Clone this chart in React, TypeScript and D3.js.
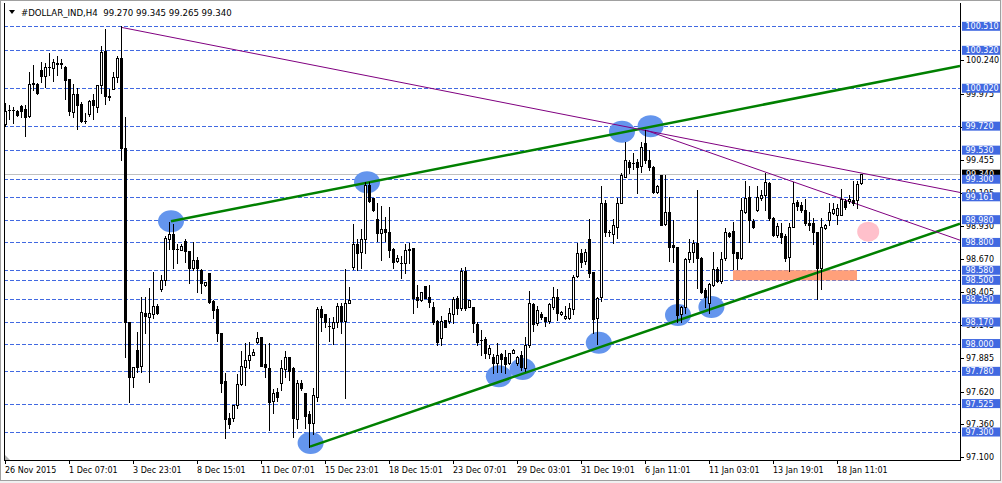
import React from 'react';
import * as d3 from 'd3';

const W = 1002;
const H = 483;
const plot = { left: 4, top: 3, right: 960, bottom: 460 };

// H4 candles, oldest first (26 Nov 2015 .. 18 Jan 2016)
const opens = [
  99.737, 99.845, 99.850, 99.843, 99.880, 99.853, 99.800, 100.055, 100.054, 100.164,
  100.117, 100.186, 100.178, 100.215, 100.219, 100.191, 100.091, 99.835, 99.975, 99.896,
  99.762, 99.816, 99.927, 99.874, 100.046, 100.315, 99.955, 100.017, 100.112, 100.257,
  99.545, 98.173, 97.738, 97.949, 97.825, 98.239, 98.213, 98.231, 98.300, 98.429,
  98.503, 98.825, 98.867, 98.748, 98.741, 98.814, 98.735, 98.595, 98.661, 98.582,
  98.461, 98.556, 98.340, 98.271, 98.086, 97.706, 97.408, 97.408, 97.514, 97.680,
  97.817, 97.870, 97.912, 98.012, 98.049, 97.838, 97.804, 97.548, 97.614, 97.685,
  97.796, 97.891, 97.804, 97.400, 97.685, 97.606, 97.442, 97.374, 97.580, 98.271,
  98.234, 98.140, 98.120, 98.173, 98.297, 98.181, 98.323, 98.608, 98.785, 98.727,
  98.824, 99.254, 99.149, 98.982, 98.877, 98.903, 98.885, 98.745, 98.655, 98.640,
  98.634, 98.743, 98.753, 98.371, 98.345, 98.455, 98.365, 98.292, 98.181, 98.041,
  98.187, 98.181, 98.234, 98.358, 98.279, 98.577, 98.287, 98.292, 98.155, 98.028,
  98.033, 97.918, 97.891, 97.849, 97.915, 97.891, 97.844, 97.928, 97.844, 97.910,
  97.804, 97.989, 98.313, 98.160, 98.234, 98.208, 98.181, 98.292, 98.366, 98.234,
  98.200, 98.200, 98.271, 98.535, 98.714, 98.656, 98.825, 98.569, 98.200, 98.371,
  99.115, 98.885, 98.867, 98.925, 99.115, 99.321, 99.439, 99.426, 99.439, 99.405,
  99.584, 99.452, 99.400, 99.202, 99.334, 98.946, 99.044, 98.780, 98.761, 98.234,
  98.292, 98.667, 98.727, 98.798, 98.674, 98.424, 98.318, 98.463, 98.587, 98.498,
  98.674, 98.872, 98.893, 98.727, 98.674, 99.044, 99.157, 98.972, 99.057, 99.149,
  99.175, 99.273, 98.991, 98.859, 98.872, 98.851, 98.687, 98.925, 99.123, 99.096,
  99.057, 98.957, 98.951, 98.885, 98.595, 98.912, 98.978, 99.036, 99.017, 99.017,
  99.131, 99.131, 99.136, 99.136, 99.270,
];
const highs = [
  99.901, 99.888, 99.874, 99.850, 99.888, 99.888, 100.151, 100.204, 100.064, 100.225,
  100.217, 100.296, 100.249, 100.275, 100.249, 100.196, 100.091, 100.054, 100.019, 99.914,
  99.822, 99.927, 99.975, 100.043, 100.354, 100.486, 100.011, 100.151, 100.275, 100.510,
  99.795, 98.173, 97.812, 98.094, 98.366, 98.371, 98.437, 98.564, 98.310, 98.543,
  98.851, 98.965, 98.946, 98.788, 98.788, 98.825, 98.735, 98.806, 98.682, 98.588,
  98.490, 98.561, 98.345, 98.297, 98.086, 97.769, 97.448, 97.514, 97.759, 97.941,
  98.007, 98.015, 97.954, 98.094, 98.049, 97.996, 98.001, 97.638, 97.646, 97.870,
  97.941, 97.896, 97.812, 97.711, 97.711, 97.611, 97.469, 97.646, 98.292, 98.297,
  98.234, 98.199, 98.207, 98.318, 98.318, 98.587, 98.450, 98.946, 98.824, 98.903,
  99.280, 99.280, 99.149, 99.109, 99.088, 98.998, 99.077, 98.753, 98.700, 98.692,
  98.787, 98.798, 98.753, 98.463, 98.411, 98.455, 98.463, 98.331, 98.187, 98.218,
  98.187, 98.279, 98.371, 98.377, 98.595, 98.608, 98.345, 98.292, 98.173, 98.107,
  98.054, 97.989, 97.918, 98.002, 97.923, 97.949, 97.928, 97.955, 97.902, 97.944,
  98.054, 98.419, 98.318, 98.297, 98.252, 98.213, 98.324, 98.445, 98.429, 98.260,
  98.297, 98.324, 98.543, 98.793, 98.745, 98.745, 98.983, 98.569, 98.371, 99.247,
  99.136, 98.898, 98.983, 99.149, 99.352, 99.598, 99.452, 99.505, 99.458, 99.598,
  99.690, 99.531, 99.405, 99.254, 99.334, 99.334, 99.157, 98.978, 98.767, 98.297,
  98.674, 98.825, 98.819, 99.215, 98.687, 98.437, 98.482, 98.727, 98.603, 98.727,
  98.912, 98.885, 98.964, 98.727, 99.149, 99.289, 99.247, 98.983, 99.247, 99.215,
  99.347, 99.281, 99.004, 98.951, 98.951, 98.867, 98.951, 99.281, 99.136, 99.123,
  99.141, 99.044, 98.991, 98.885, 98.991, 98.946, 99.110, 99.115, 99.104, 99.220,
  99.141, 99.175, 99.289, 99.289, 99.345,
];
const lows = [
  99.721, 99.774, 99.742, 99.800, 99.795, 99.645, 99.795, 100.006, 99.975, 100.072,
  100.033, 100.125, 100.080, 100.125, 100.178, 99.935, 99.808, 99.795, 99.695, 99.756,
  99.742, 99.800, 99.774, 99.835, 99.985, 99.895, 99.927, 100.011, 100.072, 99.452,
  97.897, 97.541, 97.659, 97.778, 97.778, 98.081, 97.699, 98.205, 98.230, 98.419,
  98.464, 98.746, 98.595, 98.640, 98.741, 98.648, 98.477, 98.582, 98.411, 98.398,
  98.455, 98.319, 98.200, 98.023, 97.619, 97.250, 97.329, 97.390, 97.493, 97.672,
  97.672, 97.804, 97.907, 98.007, 97.822, 97.738, 97.316, 97.448, 97.548, 97.632,
  97.738, 97.711, 97.258, 97.329, 97.632, 97.329, 97.184, 97.284, 97.548, 98.102,
  98.133, 98.023, 97.994, 98.128, 98.086, 97.566, 98.318, 98.587, 98.582, 98.595,
  98.713, 99.122, 99.051, 98.814, 98.661, 98.814, 98.682, 98.595, 98.648, 98.516,
  98.555, 98.634, 98.239, 98.292, 98.339, 98.357, 98.292, 98.154, 97.989, 97.989,
  98.134, 98.160, 98.160, 98.234, 98.266, 98.266, 98.287, 98.094, 97.989, 97.910,
  97.883, 97.883, 97.765, 97.778, 97.778, 97.765, 97.838, 97.925, 97.830, 97.791,
  97.786, 97.976, 98.102, 98.147, 98.192, 98.139, 98.165, 98.271, 98.187, 98.229,
  98.192, 98.192, 98.234, 98.524, 98.608, 98.630, 98.524, 98.086, 97.995, 98.340,
  98.851, 98.851, 98.798, 98.833, 99.110, 99.315, 99.347, 99.379, 99.194, 99.360,
  99.426, 99.370, 99.194, 99.194, 98.938, 98.940, 98.656, 98.648, 98.173, 98.173,
  98.239, 98.648, 98.648, 98.437, 98.403, 98.292, 98.239, 98.455, 98.490, 98.482,
  98.661, 98.841, 98.587, 98.587, 98.666, 99.030, 98.806, 98.912, 99.051, 99.136,
  99.057, 98.978, 98.851, 98.846, 98.793, 98.656, 98.577, 98.920, 99.057, 99.044,
  98.938, 98.899, 98.788, 98.350, 98.429, 98.904, 98.938, 99.025, 98.946, 99.017,
  99.062, 99.110, 99.096, 99.070, 99.265,
];
const closes = [
  99.843, 99.850, 99.845, 99.806, 99.843, 99.795, 100.054, 100.060, 99.985, 100.117,
  100.186, 100.190, 100.225, 100.219, 100.215, 100.085, 99.843, 99.975, 99.888, 99.764,
  99.758, 99.922, 99.888, 100.043, 100.309, 99.959, 99.951, 100.106, 100.257, 99.545,
  98.173, 97.738, 97.812, 97.817, 98.247, 98.218, 98.239, 98.300, 98.239, 98.503,
  98.833, 98.867, 98.751, 98.746, 98.772, 98.735, 98.595, 98.661, 98.595, 98.482,
  98.487, 98.332, 98.266, 98.086, 97.690, 97.400, 97.363, 97.514, 97.680, 97.822,
  97.870, 97.909, 97.933, 98.041, 97.822, 97.817, 97.540, 97.606, 97.574, 97.804,
  97.891, 97.785, 97.408, 97.685, 97.646, 97.427, 97.374, 97.593, 98.271, 98.212,
  98.173, 98.138, 98.173, 98.297, 98.181, 98.323, 98.345, 98.785, 98.719, 98.824,
  99.254, 99.130, 99.056, 98.872, 98.903, 98.885, 98.740, 98.648, 98.674, 98.638,
  98.740, 98.745, 98.357, 98.345, 98.405, 98.357, 98.331, 98.173, 98.015, 98.181,
  98.134, 98.244, 98.350, 98.279, 98.574, 98.279, 98.345, 98.160, 98.015, 98.026,
  97.928, 97.962, 97.844, 97.910, 97.875, 97.838, 97.923, 97.949, 97.891, 97.812,
  97.989, 98.324, 98.155, 98.266, 98.208, 98.181, 98.313, 98.366, 98.245, 98.250,
  98.218, 98.279, 98.529, 98.719, 98.648, 98.727, 98.556, 98.192, 98.358, 99.110,
  98.885, 98.880, 98.938, 99.110, 99.334, 99.452, 99.395, 99.428, 99.400, 99.553,
  99.452, 99.395, 99.202, 99.247, 98.938, 99.044, 98.767, 98.761, 98.226, 98.292,
  98.667, 98.727, 98.793, 98.674, 98.411, 98.366, 98.471, 98.587, 98.498, 98.667,
  98.885, 98.851, 98.714, 98.674, 99.057, 99.149, 98.978, 98.925, 99.157, 99.175,
  99.281, 98.991, 98.859, 98.930, 98.841, 98.674, 98.925, 99.115, 99.088, 99.057,
  98.957, 98.938, 98.885, 98.595, 98.920, 98.938, 99.044, 99.062, 99.070, 99.141,
  99.078, 99.141, 99.115, 99.263, 99.340,
];

// horizontal price levels (blue dashed) and right axis ticks
const levels = [
  100.51, 100.32, 100.02, 99.72, 99.53, 99.3, 99.161, 98.98, 98.8,
  98.58, 98.5, 98.35, 98.17, 98.0, 97.78, 97.525, 97.3,
];
const levelText = [
  '100.510', '100.320', '100.020', '99.720', '99.530', '99.300', '99.161', '98.980', '98.800',
  '98.580', '98.500', '98.350', '98.170', '98.000', '97.780', '97.525', '97.300',
];
const axisTicks = [
  '100.240', '99.975', '99.715', '99.455', '99.195', '98.930', '98.670',
  '98.405', '98.145', '97.885', '97.620', '97.360', '97.100',
];
const bidPrice = 99.34;

const timeBars = [0, 16, 32, 48, 64, 80, 96, 112, 128, 144, 160, 176, 192, 208];
const timeLabels = [
  '26 Nov 2015', '1 Dec 07:01', '3 Dec 23:01', '8 Dec 15:01', '11 Dec 07:01',
  '15 Dec 23:01', '18 Dec 15:01', '23 Dec 07:01', '29 Dec 03:01', '31 Dec 19:01',
  '6 Jan 11:01', '11 Jan 03:01', '13 Jan 19:01', '18 Jan 11:01',
];

// highlighted swing points (blue ellipses)
const markBars = [41.5, 90.5, 154.25, 161.4, 76.4, 123.45, 129.4, 148.45, 168.25, 176.6];
const markPrices = [98.967, 99.277, 99.676, 99.72, 97.213, 97.741, 97.799, 98.006, 98.226, 98.289];
const pinkMark = { bar: 215.8, price: 98.885 };
const zoneBars = [182, 213];
const zonePrices = [98.5, 98.58];

// trend lines: start point, second point, extended to the right edge
const trendLines = [
  { b1: 41.5, p1: 98.967, b2: 154.25, p2: 99.67, color: '#008000', width: 2.5 },
  { b1: 76.25, p1: 97.184, b2: 148.45, p2: 97.968, color: '#008000', width: 2.5 },
  { b1: 29, p1: 100.502, b2: 160, p2: 99.686, color: '#800080', width: 1 },
  { b1: 160, p1: 99.69, b2: 200, p2: 99.247, color: '#800080', width: 1 },
];

const FONT = '"DejaVu Sans", Tahoma, sans-serif';

const App: React.FC = () => {
  const x = d3.scaleLinear().domain([0, 214]).range([5, 861]);
  const y = d3.scaleLinear().domain([97.1, 100.51]).range([457.3, 26.3]);
  const px = (i: number) => Math.round(x(i));
  const py = (p: number) => Math.round(y(p));
  const endBar = x.invert(plot.right);

  return (
    <div style={{ position: 'absolute', left: 0, top: 0 }}>
      <svg width={W} height={H} style={{ display: 'block', background: '#fff' }}>
        <defs>
          <clipPath id="plotClip">
            <rect x={plot.left} y={plot.top} width={plot.right - plot.left} height={plot.bottom - plot.top} />
          </clipPath>
        </defs>

        {/* window frame */}
        <rect x={0} y={0} width={W} height={H} fill="#f0f0f0" />
        <rect x={0.5} y={0.5} width={1000} height={480} fill="#fff" stroke="#a0a0a0" />

        <g clipPath="url(#plotClip)">
          {/* dashed levels */}
          {levels.map((v, k) => (
            <line key={'lv' + k} x1={plot.left} x2={plot.right} y1={py(v) + 0.5} y2={py(v) + 0.5}
              stroke="#4169e1" strokeWidth={1} strokeDasharray="4,2" />
          ))}
          {/* bid line */}
          <line x1={plot.left} x2={plot.right} y1={py(bidPrice) + 0.5} y2={py(bidPrice) + 0.5} stroke="#c0c0c0" />

          {/* support zone */}
          <rect x={x(zoneBars[0])} y={y(zonePrices[1])} width={x(zoneBars[1]) - x(zoneBars[0])}
            height={y(zonePrices[0]) - y(zonePrices[1])} fill="#ffa07a" />

          {/* marks */}
          {markBars.map((b, k) => (
            <ellipse key={'mk' + k} cx={x(b)} cy={y(markPrices[k])} rx={13} ry={11} fill="#6495ed" />
          ))}
          <ellipse cx={x(pinkMark.bar)} cy={y(pinkMark.price)} rx={11} ry={10} fill="#ffc0cb" />

          {/* trend lines */}
          {trendLines.map((t, k) => {
            const slope = (t.p2 - t.p1) / (t.b2 - t.b1);
            const pEnd = t.p1 + slope * (endBar - t.b1);
            return (
              <line key={'tl' + k} x1={x(t.b1)} y1={y(t.p1)} x2={x(endBar)} y2={y(pEnd)}
                stroke={t.color} strokeWidth={t.width} />
            );
          })}

          {/* candles */}
          {opens.map((o, i) => {
            const c = closes[i];
            const cx = px(i);
            const yTop = py(Math.max(o, c));
            const yBot = py(Math.min(o, c));
            const bull = c >= o;
            return (
              <g key={'c' + i}>
                <line x1={cx + 0.5} x2={cx + 0.5} y1={py(highs[i])} y2={py(lows[i]) + 1} stroke="#000" />
                {yBot - yTop < 1 ? (
                  <line x1={cx - 1} x2={cx + 2} y1={yTop + 0.5} y2={yTop + 0.5} stroke="#000" />
                ) : (
                  <rect x={cx - 0.5} y={yTop + 0.5} width={2} height={yBot - yTop}
                    fill={bull ? '#fff' : '#000'} stroke="#000" />
                )}
              </g>
            );
          })}
        </g>

        {/* plot frame */}
        <line x1={plot.left + 0.5} x2={plot.left + 0.5} y1={plot.top} y2={plot.bottom + 0.5} stroke="#000" />
        <line x1={plot.left} x2={plot.right + 1} y1={plot.bottom + 0.5} y2={plot.bottom + 0.5} stroke="#000" />
        <line x1={plot.right + 0.5} x2={plot.right + 0.5} y1={plot.top} y2={plot.bottom + 0.5} stroke="#000" />
        <polygon points={`${plot.left + 1},${plot.bottom - 5} ${plot.left + 1},${plot.bottom} ${plot.left + 6},${plot.bottom}`} fill="#b0b0b0" />

        {/* header */}
        <polygon points="9,10 15,10 12,14" fill="#000" />
        <text x={21} y={16} fontFamily={FONT} fontSize={8.6} fill="#000" style={{ whiteSpace: 'pre' }}>
          {'#DOLLAR_IND,H4  99.270 99.345 99.265 99.340'}
        </text>

        {/* right axis */}
        {axisTicks.map((t) => {
          const yy = py(+t);
          return (
            <g key={'at' + t}>
              <line x1={961} x2={964} y1={yy + 0.5} y2={yy + 0.5} stroke="#000" />
              <text x={966} y={yy + 3} fontFamily={FONT} fontSize={8} fill="#000">{t}</text>
            </g>
          );
        })}
        <rect x={962} y={y(bidPrice) - 4.5} width={38} height={9} fill="#000" />
        <text x={966} y={y(bidPrice) + 3} fontFamily={FONT} fontSize={8} fill="#fff">{bidPrice.toFixed(3)}</text>
        {levels.map((v, k) => (
          <g key={'ll' + k}>
            <rect x={962} y={y(v) - 4.5} width={38} height={9} fill="#4169e1" />
            <text x={965.5} y={y(v) + 3} fontFamily={FONT} fontSize={8} fill="#fff">{levelText[k]}</text>
          </g>
        ))}

        {/* time axis */}
        {timeBars.map((b, k) => {
          const tx = px(b);
          return (
            <g key={'tb' + k}>
              <line x1={tx + 0.5} x2={tx + 0.5} y1={plot.bottom} y2={plot.bottom + 4} stroke="#000" />
              <text x={tx} y={473} fontFamily={FONT} fontSize={8} fill="#000">{timeLabels[k]}</text>
            </g>
          );
        })}
      </svg>
    </div>
  );
};

export default App;
